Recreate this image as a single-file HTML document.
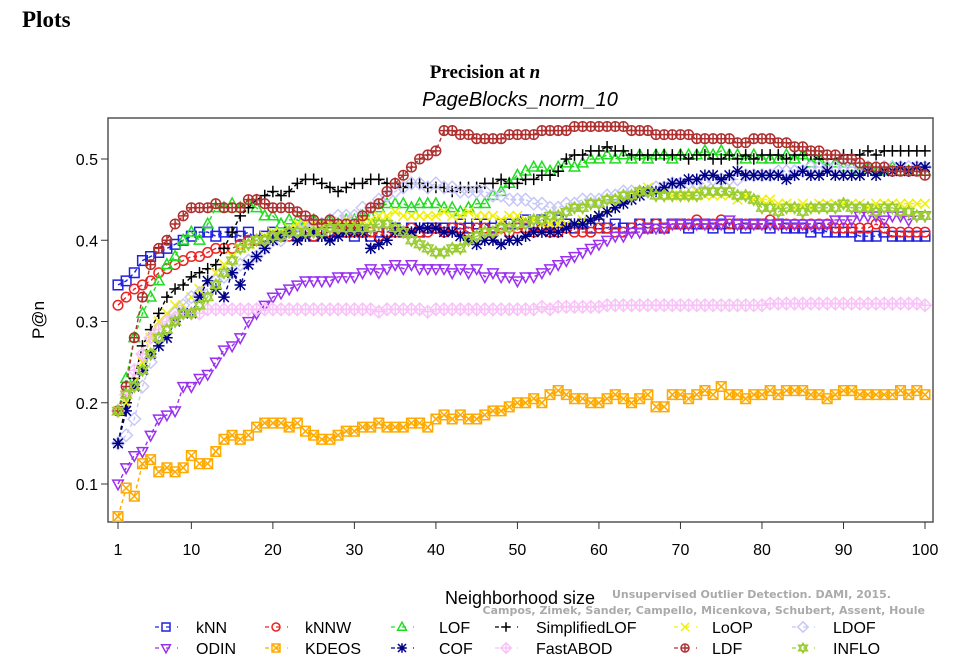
<!DOCTYPE html>
<html><head><meta charset="utf-8"><style>
body{margin:0;background:#fff;width:971px;height:662px;overflow:hidden;}
svg{display:block}
</style></head><body>
<svg id="c" width="971" height="662" viewBox="0 0 971 662" xmlns="http://www.w3.org/2000/svg">
<text x="22" y="27" font-family="Liberation Serif, serif" font-weight="bold" font-size="23">Plots</text>
<text x="485" y="78" text-anchor="middle" font-family="Liberation Serif, serif" font-weight="bold" font-size="19">Precision at <tspan font-style="italic">n</tspan></text>
<text x="520" y="106" text-anchor="middle" font-family="Liberation Sans, sans-serif" font-style="italic" font-size="20">PageBlocks_norm_10</text>
<g id="plot"></g>
<text x="44" y="320" text-anchor="middle" transform="rotate(-90 44 320)" font-family="Liberation Sans, sans-serif" font-size="17">P@n</text>
<text x="520" y="604" text-anchor="middle" font-family="Liberation Sans, sans-serif" font-size="18">Neighborhood size</text>
<text x="612" y="598" font-family="DejaVu Sans, sans-serif" font-weight="bold" font-size="11" fill="#aaa">Unsupervised Outlier Detection. DAMI, 2015.</text>
<text x="925" y="614" text-anchor="end" font-family="DejaVu Sans, sans-serif" font-weight="bold" font-size="11" fill="#aaa">Campos, Zimek, Sander, Campello, Micenkova, Schubert, Assent, Houle</text>
<g id="legend"></g>
</svg>
<script>
const xs = Array.from({length:100},(_,i)=>i+1);
const yTicks = [0.1,0.2,0.3,0.4,0.5];
const xTicks = [1,10,20,30,40,50,60,70,80,90,100];
const seriesNames = ["kNN","kNNW","LOF","SimplifiedLOF","LoOP","LDOF","ODIN","KDEOS","COF","FastABOD","LDF","INFLO"];
const kNN=[.345,.35,.36,.375,.38,.385,.39,.395,.40,.405,.41,.41,.405,.41,.41,.405,.41,.40,.405,.41,.405,.41,.405,.41,.405,.41,.405,.41,.41,.405,.41,.405,.41,.41,.415,.41,.415,.41,.415,.415,.415,.415,.42,.415,.42,.42,.415,.42,.42,.42,.425,.42,.425,.42,.425,.42,.415,.42,.415,.42,.415,.42,.415,.415,.42,.415,.42,.415,.42,.42,.415,.42,.42,.415,.42,.415,.42,.415,.42,.42,.415,.42,.415,.415,.415,.41,.415,.41,.41,.41,.41,.405,.405,.405,.41,.405,.405,.405,.405,.405];
const kNNW=[.32,.33,.34,.345,.35,.36,.365,.37,.375,.38,.38,.385,.39,.39,.39,.395,.40,.40,.40,.405,.405,.405,.41,.41,.405,.41,.41,.41,.41,.41,.41,.41,.405,.41,.41,.41,.415,.41,.41,.415,.41,.415,.415,.41,.415,.415,.41,.415,.41,.415,.415,.41,.415,.41,.41,.415,.41,.41,.41,.415,.415,.41,.41,.415,.42,.415,.42,.415,.42,.42,.42,.425,.42,.42,.425,.42,.42,.42,.42,.42,.425,.42,.42,.42,.42,.42,.42,.42,.415,.415,.415,.415,.415,.42,.415,.41,.41,.41,.41,.41];
const LOF=[.19,.23,.28,.31,.33,.35,.37,.38,.40,.41,.40,.42,.44,.44,.445,.44,.445,.44,.43,.43,.42,.425,.425,.42,.425,.42,.425,.42,.425,.425,.43,.43,.44,.445,.445,.445,.44,.445,.445,.445,.44,.44,.435,.44,.445,.445,.455,.46,.47,.48,.485,.49,.49,.485,.49,.495,.49,.495,.50,.50,.505,.50,.505,.50,.505,.50,.505,.505,.50,.505,.505,.505,.51,.505,.51,.505,.505,.50,.505,.50,.50,.50,.505,.50,.505,.495,.50,.49,.495,.49,.49,.485,.49,.485,.485,.49,.485,.485,.485,.485];
const SimplifiedLOF=[.15,.20,.23,.27,.29,.31,.33,.34,.345,.355,.36,.365,.37,.39,.41,.43,.44,.45,.455,.46,.455,.46,.47,.475,.475,.47,.465,.46,.465,.47,.47,.475,.475,.47,.47,.465,.47,.47,.465,.465,.465,.46,.465,.465,.465,.47,.47,.475,.47,.47,.475,.475,.48,.48,.485,.50,.505,.505,.51,.51,.515,.51,.51,.505,.505,.505,.505,.505,.505,.505,.50,.505,.505,.50,.50,.505,.50,.505,.50,.505,.505,.505,.50,.505,.505,.505,.50,.50,.50,.505,.505,.505,.51,.505,.51,.51,.51,.51,.51,.51];
const LoOP=[.19,.20,.22,.25,.28,.30,.31,.32,.32,.33,.34,.35,.36,.37,.38,.39,.395,.40,.405,.41,.41,.415,.42,.42,.42,.42,.42,.42,.425,.42,.425,.425,.43,.43,.435,.43,.43,.43,.43,.43,.435,.43,.43,.435,.43,.43,.43,.425,.43,.43,.425,.425,.42,.42,.42,.42,.42,.425,.425,.43,.435,.44,.45,.455,.46,.465,.46,.46,.455,.455,.455,.46,.455,.455,.455,.455,.45,.455,.45,.45,.45,.445,.445,.44,.445,.44,.445,.445,.445,.445,.445,.445,.44,.445,.445,.445,.445,.445,.445,.445];
const LDOF=[.15,.16,.18,.22,.25,.28,.30,.31,.32,.33,.335,.34,.35,.355,.36,.37,.375,.38,.39,.40,.40,.41,.41,.42,.42,.42,.425,.43,.43,.43,.44,.44,.45,.455,.46,.465,.47,.47,.465,.47,.465,.465,.46,.46,.46,.46,.455,.455,.45,.45,.45,.445,.445,.44,.44,.445,.445,.45,.45,.45,.455,.455,.46,.46,.46,.46,.465,.465,.47,.47,.47,.47,.47,.475,.475,.475,.475,.48,.48,.48,.48,.485,.485,.485,.485,.49,.49,.49,.49,.49,.49,.49,.49,.49,.49,.49,.49,.49,.49,.49];
const ODIN=[.10,.12,.135,.14,.16,.18,.185,.19,.22,.22,.23,.235,.25,.265,.27,.28,.30,.31,.32,.33,.335,.34,.345,.35,.35,.35,.35,.355,.355,.355,.36,.365,.36,.365,.37,.365,.37,.365,.365,.365,.365,.36,.365,.36,.365,.355,.36,.355,.355,.35,.355,.355,.36,.365,.37,.375,.38,.385,.39,.395,.40,.405,.405,.41,.41,.415,.415,.415,.42,.42,.42,.42,.42,.42,.42,.425,.42,.42,.42,.42,.42,.42,.42,.42,.42,.42,.42,.42,.425,.425,.425,.43,.43,.43,.425,.43,.43,.425,.43,.43];
const KDEOS=[.06,.095,.085,.125,.13,.115,.12,.115,.12,.135,.125,.125,.14,.155,.16,.155,.16,.17,.175,.175,.175,.17,.175,.165,.16,.155,.155,.16,.165,.165,.17,.17,.175,.17,.17,.17,.175,.175,.17,.18,.185,.18,.185,.18,.18,.185,.19,.19,.195,.20,.20,.205,.20,.21,.215,.21,.205,.205,.20,.20,.205,.21,.205,.20,.205,.21,.195,.195,.21,.21,.205,.21,.215,.21,.22,.21,.21,.205,.21,.21,.215,.21,.215,.215,.215,.21,.21,.205,.21,.215,.215,.21,.21,.21,.21,.21,.215,.21,.215,.21];
const COF=[.15,.19,.22,.24,.26,.27,.28,.30,.31,.31,.33,.35,.34,.33,.36,.345,.37,.38,.39,.40,.405,.41,.40,.405,.41,.405,.40,.405,.41,.41,.41,.39,.395,.40,.41,.41,.41,.415,.415,.415,.41,.41,.405,.40,.395,.40,.40,.395,.40,.40,.405,.41,.41,.41,.41,.415,.42,.42,.425,.43,.435,.44,.445,.45,.455,.46,.46,.465,.47,.47,.475,.475,.48,.48,.475,.48,.485,.48,.48,.48,.48,.48,.475,.48,.485,.48,.48,.485,.48,.48,.48,.48,.485,.48,.485,.485,.49,.485,.49,.49];
const FastABOD=[.19,.21,.24,.26,.28,.29,.30,.305,.31,.31,.31,.315,.315,.315,.315,.315,.315,.315,.315,.315,.315,.315,.315,.315,.315,.315,.315,.315,.315,.315,.315,.315,.312,.315,.315,.315,.315,.315,.312,.315,.315,.315,.315,.315,.315,.315,.315,.315,.315,.315,.315,.315,.318,.315,.318,.318,.318,.318,.318,.318,.32,.32,.32,.32,.32,.32,.32,.32,.32,.32,.32,.32,.32,.32,.32,.32,.32,.32,.32,.32,.322,.322,.322,.322,.322,.322,.322,.322,.322,.322,.322,.322,.322,.322,.322,.322,.322,.322,.322,.32];
const LDF=[.19,.22,.28,.33,.37,.39,.40,.42,.43,.44,.44,.44,.445,.44,.44,.44,.45,.45,.445,.44,.44,.44,.435,.43,.425,.42,.425,.42,.42,.42,.43,.44,.445,.46,.47,.48,.49,.50,.505,.51,.535,.535,.53,.53,.525,.525,.525,.525,.53,.53,.53,.53,.535,.535,.535,.535,.54,.54,.54,.54,.54,.54,.54,.535,.535,.535,.53,.53,.53,.53,.53,.525,.525,.525,.525,.525,.52,.52,.525,.525,.525,.52,.52,.515,.515,.51,.51,.505,.505,.50,.50,.495,.49,.49,.49,.485,.485,.485,.485,.48];
const INFLO=[.19,.21,.22,.24,.26,.28,.29,.30,.31,.31,.32,.33,.345,.36,.375,.39,.395,.40,.40,.405,.405,.41,.41,.41,.41,.41,.415,.415,.415,.415,.415,.415,.42,.42,.415,.41,.40,.395,.39,.385,.385,.39,.39,.40,.405,.41,.41,.415,.415,.42,.42,.425,.425,.43,.43,.435,.44,.44,.445,.445,.45,.45,.455,.455,.46,.46,.455,.455,.455,.455,.455,.455,.46,.46,.46,.46,.455,.455,.45,.44,.44,.435,.44,.44,.435,.44,.44,.44,.44,.445,.44,.44,.44,.435,.44,.44,.435,.435,.43,.43];

const NS="http://www.w3.org/2000/svg";
const L=108,R=933,T=118,B=522;
const xScale=v=>118+(v-1)*(925-118)/99;
const yScale=v=>159+(0.5-v)*812.5;
function mk(tag,attrs,parent){const e=document.createElementNS(NS,tag);for(const k in attrs)e.setAttribute(k,attrs[k]);parent.appendChild(e);return e;}
const plot=document.getElementById('plot');
const frame=mk('rect',{x:L,y:T,width:R-L,height:B-T,fill:'#fff',stroke:'#555','stroke-width':1.5},plot);



yTicks.forEach(t=>{
  const y=yScale(t);
  const tl=mk('line',{x1:L-7,x2:L,y1:y,y2:y,stroke:'#333'},plot);
  
  
  const tx=mk('text',{x:L-10,y:y+6,'text-anchor':'end','font-family':'Liberation Sans, sans-serif','font-size':16},plot);
  tx.textContent=t.toFixed(1);
  
  
});
xTicks.forEach(t=>{
  const x=xScale(t);
  const tl=mk('line',{x1:x,x2:x,y1:B,y2:B+7,stroke:'#333'},plot);
  
  
  const tx=mk('text',{x:x,y:B+33,'text-anchor':'middle','font-family':'Liberation Sans, sans-serif','font-size':16},plot);
  tx.textContent=t;
  
  
});

const colors=["#2020e0","#ee2020","#20dd20","#000000","#f0f000","#c8c8f8","#9a30f0","#ffaa00","#000088","#f8c4f8","#b03030","#9acd32"];
const shapes=["square","circle","tri","plus","cross","diamond","tridown","sqx","star","diaplus","circplus","hourglass"];
const datas=[kNN,kNNW,LOF,SimplifiedLOF,LoOP,LDOF,ODIN,KDEOS,COF,FastABOD,LDF,INFLO];

function marker(g,shape,x,y,c,s){
  const a={fill:'none',stroke:c,'stroke-width':1.5};
  const P=(d)=>mk('path',Object.assign({d:d},a),g);
  switch(shape){
    case 'square':P(`M${x-s} ${y-s}h${2*s}v${2*s}h${-2*s}Z`);break;
    case 'circle':mk('circle',Object.assign({cx:x,cy:y,r:s},a),g);break;
    case 'tri':P(`M${x} ${y-s*1.2}L${x+s*1.1} ${y+s*0.8}L${x-s*1.1} ${y+s*0.8}Z`);break;
    case 'tridown':P(`M${x} ${y+s*1.2}L${x+s*1.1} ${y-s*0.8}L${x-s*1.1} ${y-s*0.8}Z`);break;
    case 'plus':P(`M${x-s*1.2} ${y}h${2.4*s}M${x} ${y-s*1.2}v${2.4*s}`);break;
    case 'cross':P(`M${x-s} ${y-s}L${x+s} ${y+s}M${x-s} ${y+s}L${x+s} ${y-s}`);break;
    case 'diamond':P(`M${x} ${y-s*1.3}L${x+s*1.3} ${y}L${x} ${y+s*1.3}L${x-s*1.3} ${y}Z`);break;
    case 'sqx':P(`M${x-s} ${y-s}h${2*s}v${2*s}h${-2*s}ZM${x-s} ${y-s}L${x+s} ${y+s}M${x-s} ${y+s}L${x+s} ${y-s}`);break;
    case 'star':P(`M${x-s} ${y-s}L${x+s} ${y+s}M${x-s} ${y+s}L${x+s} ${y-s}M${x-s*1.2} ${y}h${2.4*s}M${x} ${y-s*1.2}v${2.4*s}`);break;
    case 'diaplus':P(`M${x} ${y-s*1.3}L${x+s*1.3} ${y}L${x} ${y+s*1.3}L${x-s*1.3} ${y}ZM${x-s*1.3} ${y}h${2.6*s}M${x} ${y-s*1.3}v${2.6*s}`);break;
    case 'circplus':mk('circle',Object.assign({cx:x,cy:y,r:s},a),g);P(`M${x-s} ${y}h${2*s}M${x} ${y-s}v${2*s}`);break;
    case 'hourglass':P(`M${x} ${y-s*1.2}L${x+s*1.1} ${y+s*0.7}L${x-s*1.1} ${y+s*0.7}ZM${x} ${y+s*1.2}L${x+s*1.1} ${y-s*0.7}L${x-s*1.1} ${y-s*0.7}Z`);break;
  }
}

datas.forEach((d,si)=>{
  const g=mk('g',{},plot);
  
  
  const pts=d.map((v,i)=>xScale(xs[i]).toFixed(1)+','+yScale(v).toFixed(1)).join(' ');
  const pl=mk('polyline',{points:pts,fill:'none',stroke:colors[si],'stroke-width':1.4,'stroke-dasharray':'4 3'},g);
  
  
  d.forEach((v,i)=>marker(g,shapes[si],xScale(xs[i]),yScale(v),colors[si],4.8));
});

const legend=document.getElementById('legend');
const legMarkX=[166,276,402,506,685,803];
const legTextX=[196,305,439,536,712,833];
const order=[[0,1,2,3,4,5],[6,7,8,9,10,11]];
order.forEach((row,ri)=>{
  const y=627+ri*21;
  row.forEach((si,ci)=>{
    const g=mk('g',{},legend);
    
    
    mk('line',{x1:legMarkX[ci]-12,x2:legMarkX[ci]+12,y1:y,y2:y,stroke:colors[si],'stroke-width':1.3,'stroke-dasharray':'4 7','stroke-dashoffset':-1},g);
    marker(g,shapes[si],legMarkX[ci],y,colors[si],4);
    const t=mk('text',{x:legTextX[ci],y:y+6,'font-family':'Liberation Sans, sans-serif','font-size':16},g);
    t.textContent=seriesNames[si];
  });
});
</script>
</body></html>
